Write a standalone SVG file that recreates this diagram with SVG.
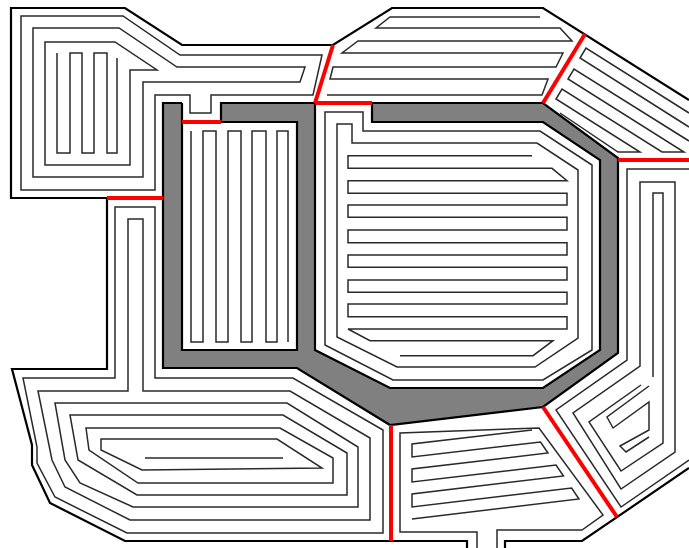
<svg xmlns="http://www.w3.org/2000/svg" width="689" height="548" viewBox="0 0 689 548">
<style>
.b{fill:none;stroke:#000;stroke-width:2.2;stroke-linejoin:miter}
.p{fill:none;stroke:#2a2a2a;stroke-width:1.5;stroke-linejoin:miter}
.r{fill:none;stroke:#ff0000;stroke-width:4}
.g{fill:#808080;fill-rule:evenodd;stroke:none}
</style>
<rect width="689" height="548" fill="#fff"/>
<g id="obstacle">
<path class="g" d="M163,103 H543 L618,158 V353 L543,407 L390,425 L297,368 H163 Z M182,103 H221 V122 H297 V350 H182 Z M315,103 H372 V122 H543 L600,160 V350 L543,388 H390 L315,350 Z"/>
<polyline class="b" points="182,103 163,103 163,368 297,368 390,425 543,407 618,353 618,158 543,103 372,103 372,122 543,122 600,160 600,350 543,388 390,388 315,350 315,103 221,103 221,122 297,122 297,350 182,350 182,103"/>
</g>
<g id="boundary">
<polyline class="b" points="107,198 11,198 11,8 125,8 182,45 333,45 392,8 543,8 689,100"/>
<polyline class="b" points="107,198 107,369 12,369 32,445 32,465 50,503 125,541 467,541 467,548"/>
<polyline class="b" points="505,548 505,541 582,541 689,468"/>
</g>
<g id="regionA">
<polygon class="p" points="21,16 123,16 180,55 322,55 313,95 211,95 211,113 190,113 190,95 155,95 155,190 21,190"/>
<polygon class="p" points="33,28 119,28 177,67 305,67 300,82 143,82 143,177 33,177"/>
<polygon class="p" points="45,42 115,42 157,70 130,70 130,165 45,165"/>
<polyline class="p" points="57,53 57,153 70,153 70,53 82,53 82,153 94,153 94,53 107,53 107,153 117,153 117,58"/>
</g>
<g id="regionB">
<polyline class="p" points="540,17 390,17 376,28 560,28 572,41 358,41 342,53 563,53 556,67 333,67 330,79 548,79 542,95 327,95"/>
</g>
<g id="regionC">
<polyline class="p" points="689,113 586,48 580,58 689,127"/>
<polyline class="p" points="689,141 574,69 568,79 684,152 662,152 562,89 556,99 640,152 618,152 560,113"/>
</g>
<g id="regionD">
<polyline class="p" points="689,169 627,169 627,360 556,410 621,507 689,460"/>
<polygon class="p" points="640,182 675,182 675,452 621,489 573,413 640,366"/>
<polyline class="p" points="653,377 653,193 663,193 663,443 621,471 589,422 641,385"/>
<polyline class="p" points="649,386 607,417 613,428 649,402 649,430 620,446 626,452 649,437"/>
</g>
<g id="regionE">
<polyline class="p" points="477,548 477,532 400,532 400,433 539,428 603,515 582,530 497,530 497,548"/>
<polyline class="p" points="532,430 412,444 412,457 540.5,442 548,453 412,469 412,482 556,465 563.5,476 412,494 412,507 571.6,488 579,499 412,519"/>
</g>
<g id="regionF">
<polygon class="p" points="155,207 155,378 293,378 383,430 383,533 127,533 55,497 37,463 37,447 23,378 115,378 115,207"/>
<polygon class="p" points="128,219 143,219 143,391 290,391 370,438 370,520 130,520 65,487 52,460 38,391 128,391"/>
<polygon class="p" points="55,403 287,403 358,447 358,507 133,507 80,483 65,460"/>
<polygon class="p" points="70,415 283,415 347,453 347,495 137,495 78,460"/>
<polygon class="p" points="86,428 280,428 333,458 333,483 138,483 89,450"/>
<polygon class="p" points="101,439 277,439 322,468 142,470 101,450"/>
<polyline class="p" points="145,458 283,458"/>
</g>
<g id="regionG">
<polyline class="p" points="191,131 191,342 203,342 203,131 216,131 216,342 228,342 228,131 241,131 241,342 252,342 252,131 266,131 266,342 277,342 277,131 288,131 288,342"/>
</g>
<g id="regionH">
<polygon class="p" points="325,112 363,112 363,131 540,131 592,165 592,350 543,380 393,380 325,345"/>
<polygon class="p" points="337,124 352,124 352,143 537,143 578,170 578,338 535,367 397,367 337,337"/>
<polyline class="p" points="532,155.7 348,155.7 348,168.3 552,168.3 567,180.7 348,180.7 348,193.3 567,193.3 567,205 348,205 348,217.3 567,217.3 567,230 348,230 348,242.7 567,242.7 567,255 348,255 348,267.3 567,267.3 567,280 348,280 348,292.3 567,292.3 567,304 348,304 348,316.7 567,316.7 567,329 348,329 370,340.7 553,340.7 533,355.7 400,355.7"/>
</g>
<g id="connectors">
<line class="r" x1="107" y1="198" x2="163" y2="198"/>
<line class="r" x1="182" y1="122" x2="221" y2="122"/>
<line class="r" x1="333" y1="45" x2="315" y2="103"/>
<line class="r" x1="315" y1="103" x2="372" y2="103"/>
<line class="r" x1="543" y1="103" x2="585" y2="34"/>
<line class="r" x1="618" y1="160" x2="689" y2="160"/>
<line class="r" x1="543" y1="407" x2="617" y2="517"/>
<line class="r" x1="391" y1="425" x2="391" y2="541"/>
</g>
</svg>
